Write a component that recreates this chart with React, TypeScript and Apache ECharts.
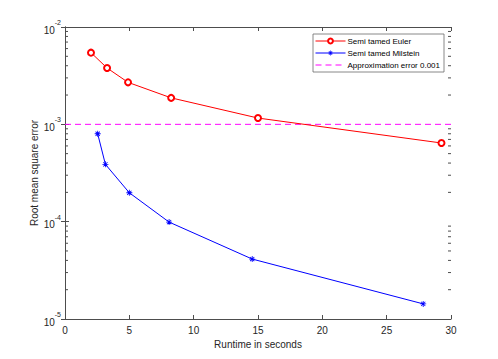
import React, { useEffect, useRef } from "react";
import * as echarts from "echarts";

const runtimeEuler = [2.02, 3.27, 4.9, 8.25, 15.0, 29.26];
const errorEuler = [5.45e-3, 3.79e-3, 2.7e-3, 1.87e-3, 1.16e-3, 6.43e-4];
const runtimeMilstein = [2.54, 3.14, 5.0, 8.09, 14.55, 27.84];
const errorMilstein = [8.0e-4, 3.88e-4, 1.98e-4, 9.9e-5, 4.13e-5, 1.43e-5];
const approxError = 0.001;
const xMin = 0;
const xMax = 30;
const xInterval = 5;
const yMin = 1e-5;
const yMax = 1e-2;
const minorTickValues = [
  2e-5, 3e-5, 4e-5, 5e-5, 6e-5, 7e-5, 8e-5, 9e-5,
  2e-4, 3e-4, 4e-4, 5e-4, 6e-4, 7e-4, 8e-4, 9e-4,
  2e-3, 3e-3, 4e-3, 5e-3, 6e-3, 7e-3, 8e-3, 9e-3,
];
const seriesNames = ["Semi tamed Euler", "Semi tamed Milstein", "Approximation error 0.001"];

const FONT = "'Liberation Sans', Arial, Helvetica, sans-serif";
const AXIS = "#4d4d4d";
const TEXT = "#262626";

const asterisk =
  "path://M-0.7,-5L0.7,-5L0.7,5L-0.7,5Z" +
  "M-5,-0.7L5,-0.7L5,0.7L-5,0.7Z" +
  "M-3,-4L4,3L3,4L-4,-3Z" +
  "M-4,3L3,-4L4,-3L-3,4Z";

export default function App() {
  const ref = useRef<HTMLDivElement>(null);
  useEffect(() => {
    if (!ref.current) return;
    const chart = echarts.init(ref.current, undefined, { renderer: "svg" });
    const yLabelFmt = (v: number) => `{b|10}{s|${Math.round(Math.log10(v))}}`;
    chart.setOption({
      animation: false,
      backgroundColor: "#ffffff",
      textStyle: { fontFamily: FONT },
      grid: { left: 65, right: 47, top: 27, bottom: 40 },
      legend: {
        data: [
          seriesNames[0],
          seriesNames[1],
          { name: seriesNames[2], itemStyle: { opacity: 0 } },
        ],
        orient: "vertical",
        right: 54,
        top: 34,
        itemWidth: 30,
        itemHeight: 6,
        itemGap: 4,
        padding: [3, 4, 3, 2],
        borderColor: "#6b6b6b",
        borderWidth: 0.8,
        backgroundColor: "#fff",
        lineStyle: { width: 1 },
        textStyle: { fontFamily: FONT, fontSize: 8, color: "#000", padding: [0, 0, 0, -3] },
      },
      xAxis: [
        {
          type: "value",
          min: xMin,
          max: xMax,
          interval: xInterval,
          name: "Runtime in seconds",
          nameLocation: "middle",
          nameGap: 20,
          nameTextStyle: { fontFamily: FONT, fontSize: 10, color: TEXT },
          axisLine: { show: true, lineStyle: { color: AXIS, width: 1 } },
          axisTick: { show: true, inside: true, length: 4, lineStyle: { color: AXIS } },
          axisLabel: { fontFamily: FONT, fontSize: 10, color: TEXT, margin: 6 },
          splitLine: { show: false },
        },
        {
          type: "value",
          position: "top",
          min: xMin,
          max: xMax,
          interval: xInterval,
          axisLine: { show: true, lineStyle: { color: AXIS, width: 1 } },
          axisTick: { show: true, inside: true, length: 4, lineStyle: { color: AXIS } },
          axisLabel: { show: false },
          splitLine: { show: false },
        },
      ],
      yAxis: [
        {
          type: "log",
          logBase: 10,
          min: yMin,
          max: yMax,
          name: "Root mean square error",
          nameLocation: "middle",
          nameGap: 26,
          nameMoveOverlap: false,
          nameTextStyle: { fontFamily: FONT, fontSize: 10, color: TEXT },
          axisLine: { show: true, lineStyle: { color: AXIS, width: 1 } },
          axisTick: { show: true, inside: true, length: 4, lineStyle: { color: AXIS } },
          axisLabel: {
            formatter: yLabelFmt,
            margin: 4,
            rich: {
              b: { fontFamily: FONT, fontSize: 10, color: TEXT, lineHeight: 16, verticalAlign: "bottom" },
              s: { fontFamily: FONT, fontSize: 7, color: TEXT, lineHeight: 16, verticalAlign: "top" },
            },
          },
          splitLine: { show: false },
        },
        {
          type: "log",
          logBase: 10,
          min: yMin,
          max: yMax,
          position: "right",
          axisLine: { show: true, lineStyle: { color: AXIS, width: 1 } },
          axisTick: { show: true, inside: true, length: 4, lineStyle: { color: AXIS } },
          axisLabel: { show: false },
          splitLine: { show: false },
        },
      ],
      series: [
        {
          name: seriesNames[0],
          type: "line",
          data: runtimeEuler.map((x, i) => [x, errorEuler[i]]),
          color: "#ff0000",
          lineStyle: { color: "#ff0000", width: 1 },
          symbol: "emptyCircle",
          symbolSize: 6,
          itemStyle: { color: "#ff0000", borderColor: "#ff0000", borderWidth: 0.8 },
          z: 3,
        },
        {
          name: seriesNames[1],
          type: "line",
          data: runtimeMilstein.map((x, i) => [x, errorMilstein[i]]),
          color: "#0000ff",
          lineStyle: { color: "#0000ff", width: 1 },
          symbol: asterisk,
          symbolSize: 6,
          itemStyle: { color: "#0000ff" },
          z: 3,
        },
        {
          name: seriesNames[2],
          type: "line",
          data: [
            [xMin, approxError],
            [xMax, approxError],
          ],
          color: "#ff00ff",
          lineStyle: { color: "#ff00ff", width: 1, type: [6, 4] },
          showSymbol: false,
          symbol: "none",
          itemStyle: { opacity: 0 },
          z: 2,
        },
        {
          type: "custom",
          silent: true,
          clip: false,
          data: minorTickValues.map((v) => [v]),
          renderItem: (params: any, api: any) => {
            const v = api.value(0);
            const l = api.coord([xMin, v]);
            const r = api.coord([xMax, v]);
            const style = { stroke: AXIS, lineWidth: 1 };
            return {
              type: "group",
              children: [
                { type: "line", shape: { x1: l[0], y1: l[1], x2: l[0] + 3, y2: l[1] }, style },
                { type: "line", shape: { x1: r[0], y1: r[1], x2: r[0] - 3, y2: r[1] }, style },
              ],
            };
          },
          encode: { y: 0 },
          z: 1,
        },
      ],
    });
    return () => chart.dispose();
  }, []);
  return (
    <div
      ref={ref}
      style={{ position: "absolute", left: 0, top: 0, width: 498, height: 359, background: "#fff" }}
    />
  );
}
